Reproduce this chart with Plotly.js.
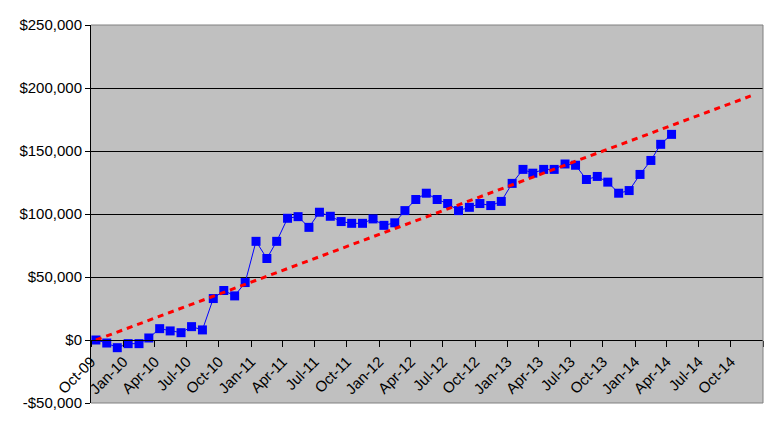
<!DOCTYPE html>
<html>
<head>
<meta charset="utf-8">
<script src="https://cdn.plot.ly/plotly-3.0.1.min.js"></script>
<style>html,body{margin:0;padding:0;background:#fff;}#chart{width:772px;height:427px;}</style>
</head>
<body>
<div id="chart"></div>
<script>
var months = [
  '2009-10-15','2009-11-15','2009-12-15',
  '2010-01-15','2010-02-15','2010-03-15','2010-04-15','2010-05-15','2010-06-15',
  '2010-07-15','2010-08-15','2010-09-15','2010-10-15','2010-11-15','2010-12-15',
  '2011-01-15','2011-02-15','2011-03-15','2011-04-15','2011-05-15','2011-06-15',
  '2011-07-15','2011-08-15','2011-09-15','2011-10-15','2011-11-15','2011-12-15',
  '2012-01-15','2012-02-15','2012-03-15','2012-04-15','2012-05-15','2012-06-15',
  '2012-07-15','2012-08-15','2012-09-15','2012-10-15','2012-11-15','2012-12-15',
  '2013-01-15','2013-02-15','2013-03-15','2013-04-15','2013-05-15','2013-06-15',
  '2013-07-15','2013-08-15','2013-09-15','2013-10-15','2013-11-15','2013-12-15',
  '2014-01-15','2014-02-15','2014-03-15','2014-04-15'
];
var balance = [
  0, -2400, -6100,
  -2900, -2900, 1600, 9000, 7200, 5800,
  10600, 8000, 32900, 39300, 35000, 45600,
  78300, 64700, 78300, 96600, 97900, 89400,
  101400, 98200, 94000, 92600, 92600, 96100,
  91000, 93000, 102700, 111500, 116500, 111500,
  108300, 102700, 105300, 108300, 106700, 110000,
  124300, 135400, 132400, 135400, 135400, 139700,
  138700, 127400, 129800, 125300, 116500, 118600,
  131400, 142500, 155300, 163200
];
var trendDates = ['2009-10-15', '2014-11-27'];
var trendValues = [0, 193700];

var xTickVals = [
  '2009-10-01','2010-01-01','2010-04-01','2010-07-01','2010-10-01',
  '2011-01-01','2011-04-01','2011-07-01','2011-10-01',
  '2012-01-01','2012-04-01','2012-07-01','2012-10-01',
  '2013-01-01','2013-04-01','2013-07-01','2013-10-01',
  '2014-01-01','2014-04-01','2014-07-01','2014-10-01','2015-01-01'
];
var xTickText = [
  'Oct-09','Jan-10','Apr-10','Jul-10','Oct-10',
  'Jan-11','Apr-11','Jul-11','Oct-11',
  'Jan-12','Apr-12','Jul-12','Oct-12',
  'Jan-13','Apr-13','Jul-13','Oct-13',
  'Jan-14','Apr-14','Jul-14','Oct-14',''
];
var yTickVals = [-50000, 0, 50000, 100000, 150000, 200000, 250000];
var yTickText = ['-$50,000', '$0', '$50,000', '$100,000', '$150,000', '$200,000', '$250,000'];

var FONT = 'Liberation Sans, Arial, sans-serif';

var traces = [
  {
    x: months, y: balance, type: 'scatter', mode: 'lines+markers',
    line: {color: '#0000FF', width: 1},
    marker: {symbol: 'square', size: 9, color: '#0000FF', line: {width: 0}},
    hoverinfo: 'x+y'
  },
  {
    x: trendDates, y: trendValues, type: 'scatter', mode: 'lines',
    line: {color: '#FF0000', width: 3, dash: '6px,5px'},
    hoverinfo: 'skip'
  }
];

var layout = {
  width: 772, height: 427,
  margin: {l: 91, r: 9, t: 25, b: 24, pad: 0},
  paper_bgcolor: '#FFFFFF',
  plot_bgcolor: '#C0C0C0',
  showlegend: false,
  font: {family: FONT, size: 15, color: '#000000'},
  xaxis: {
    type: 'date',
    range: ['2009-10-01', '2015-01-01'],
    tickvals: xTickVals, ticktext: xTickText,
    tickangle: -45,
    ticks: 'outside', ticklen: 6, tickcolor: '#000000', tickwidth: 1,
    showgrid: false, zeroline: false,
    showline: true, linecolor: '#000000', linewidth: 1,
    anchor: 'free', position: 1/6,
    tickfont: {family: FONT, size: 15, color: '#000000'},
    fixedrange: true
  },
  yaxis: {
    range: [-50000, 250000],
    tickvals: yTickVals, ticktext: yTickText,
    ticks: 'outside', ticklen: 5, tickcolor: '#000000', tickwidth: 1,
    showgrid: true, gridcolor: '#000000', gridwidth: 1,
    zeroline: true, zerolinecolor: '#000000', zerolinewidth: 1,
    showline: true, linecolor: '#000000', linewidth: 1,
    tickfont: {family: FONT, size: 15, color: '#000000'},
    fixedrange: true
  },
  shapes: [
    {type: 'path', xref: 'paper', yref: 'paper', path: 'M0,1 L1,1 L1,0 L0,0',
     line: {color: '#808080', width: 1}, layer: 'above'}
  ]
};

Plotly.newPlot('chart', traces, layout, {displayModeBar: false, staticPlot: true});
</script>
</body>
</html>
